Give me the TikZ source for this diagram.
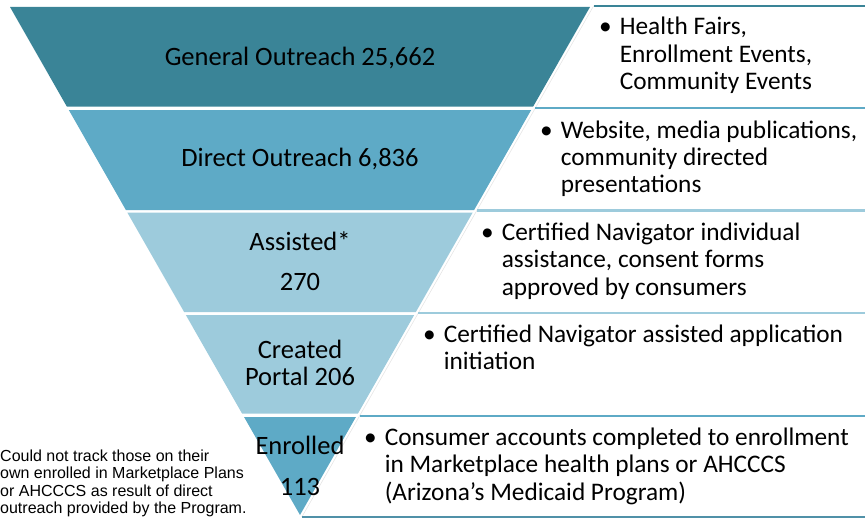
\documentclass[tikz,border=0pt]{standalone}
\usepackage{fontspec}
\setmainfont{Carlito}
\newfontfamily\notefont{Liberation Sans}
\usetikzlibrary{calc,positioning}
\definecolor{tealdark}{HTML}{3A8497}
\definecolor{tealmid}{HTML}{5EAAC6}
\definecolor{teallight}{HTML}{9DCBDC}

\begin{document}
\begin{tikzpicture}[x=1pt,y=-1pt,
    bandtext/.style={font=\fontsize{26.5}{27.5}\selectfont, align=center, inner sep=0pt},
    listtext/.style={font=\fontsize{25.3}{27.5}\selectfont, anchor=base west, inner sep=0pt},
    notetext/.style={font=\notefont\fontsize{16}{17.5}\selectfont, anchor=base west, inner sep=0pt},
    rowline/.style={line width=2.5pt}
  ]
  \useasboundingbox (0,0) rectangle (865,519);

  % funnel
  \foreach \yt/\yb/\col in {7/106.5/tealdark, 110/210/tealmid, 212.5/312/teallight,
                           315/413.5/teallight, 417/515/tealmid}{
    \pgfmathsetmacro\wt{0.570866*(515-\yt)}
    \pgfmathsetmacro\wb{0.570866*(515-\yb)}
    \fill[\col] (300-\wt,\yt) -- (300+\wt,\yt) -- (300+\wb,\yb) -- (300-\wb,\yb) -- cycle;
  }

  % boxes on the right
  \foreach \yt/\yb/\col in {6/108/tealdark, 108/210.5/tealmid, 210.5/313/teallight,
                           313/416/teallight, 416/517/tealmid}{
    \pgfmathsetmacro\wt{0.570866*(515-\yt)+3}
    \pgfmathsetmacro\wb{0.570866*(515-\yb)+3}
    \draw[gray!20, line width=0.6pt] (300+\wt,\yt) -- (300+\wb,\yb);
    \draw[\col, rowline] (300+\wt,\yt) -- (865,\yt);
  }
  \draw[tealmid!85!black, line width=2pt] (301.5,517) -- (865,517);

  % funnel labels
  \node[bandtext] (general) at (300,57.5) {General Outreach 25,662};
  \node[bandtext] (direct) at (300,158.5) {Direct Outreach 6,836};
  \node[bandtext] (assisted) at (300,261) {Assisted*\\[12.5pt]270};
  \node[bandtext] (portal) at (300,363) {Created\\Portal 206};
  \node[bandtext] (enrolled) at (300,465.5) {Enrolled\\[13.5pt]113};

  % descriptions
  \node[listtext] (fairs) at (599,35) {\begin{tabular}[t]{@{}l@{\hspace{8pt}}l@{}}
      •&Health Fairs,\\&Enrollment Events,\\&Community Events\end{tabular}};
  \node[listtext] (media) at (540,138) {\begin{tabular}[t]{@{}l@{\hspace{8pt}}l@{}}
      •&Website, media publications,\\&community directed\\&presentations\end{tabular}};
  \node[listtext] (navigator) at (481,240) {\begin{tabular}[t]{@{}l@{\hspace{8pt}}l@{}}
      •&Certified Navigator individual\\&assistance, consent forms\\&approved by consumers\end{tabular}};
  \node[listtext] (application) at (423,342) {\begin{tabular}[t]{@{}l@{\hspace{8pt}}l@{}}
      •&Certified Navigator assisted application\\&initiation\end{tabular}};
  \node[listtext] (accounts) at (364,445) {\begin{tabular}[t]{@{}l@{\hspace{8pt}}l@{}}
      •&Consumer accounts completed to enrollment\\&in Marketplace health plans or AHCCCS\\&(Arizona’s Medicaid Program)\end{tabular}};

  % footnote
  \node[notetext] (note) at (0,461) {\begin{tabular}[t]{@{}l@{}}
      Could not track those on their\\own enrolled in Marketplace Plans\\
      or AHCCCS as result of direct\\outreach provided by the Program.\end{tabular}};
\end{tikzpicture}
\end{document}
